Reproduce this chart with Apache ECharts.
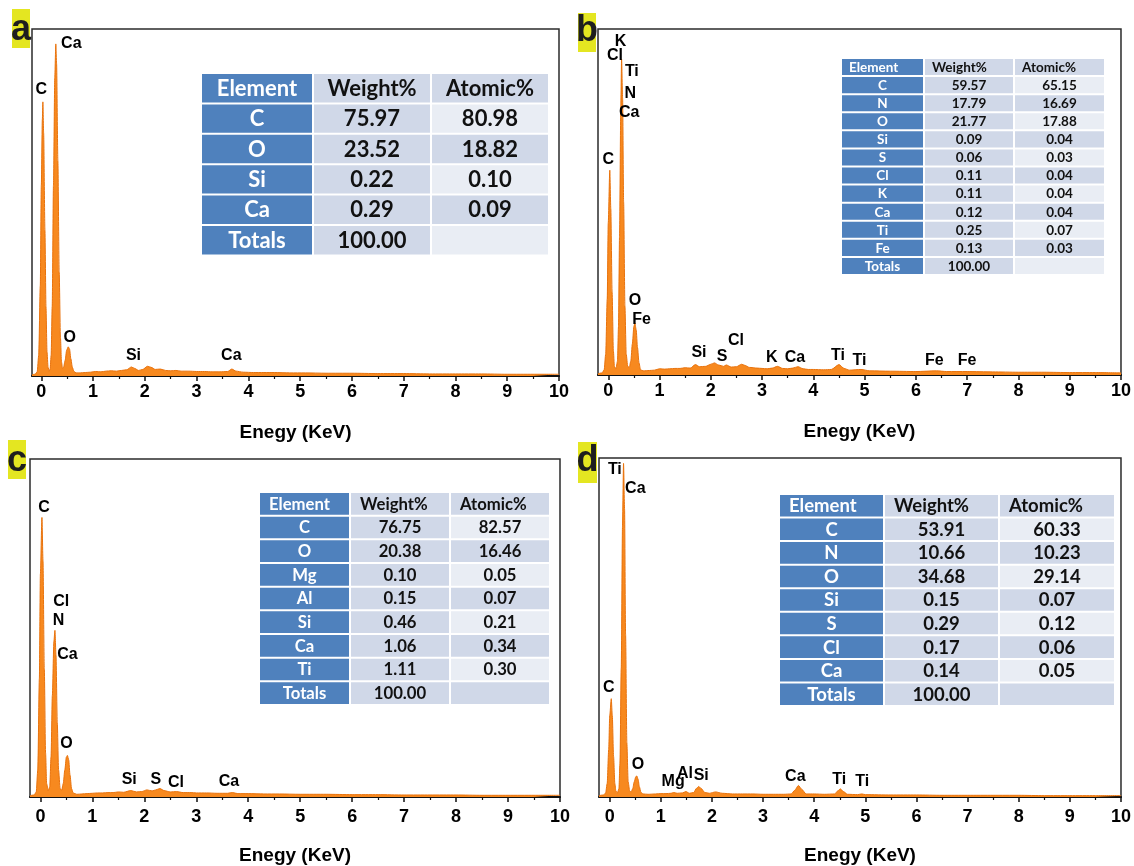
<!DOCTYPE html>
<html><head><meta charset="utf-8">
<script src="https://cdn.jsdelivr.net/npm/echarts@6/dist/echarts.min.js"></script>
<style>html,body{margin:0;padding:0;background:#fff}#c{width:1134px;height:866px}</style>
</head><body><div id="c"></div>
<script>
// ---------- DATA ----------
const xTickValues = [0,1,2,3,4,5,6,7,8,9,10];
const xMinorTickValues = [0.5,1.5,2.5,3.5,4.5,5.5,6.5,7.5,8.5,9.5];
const xAxisTitle = 'Enegy (KeV)';
const tableHeader = ['Element','Weight%','Atomic%'];

// spectrum (a): [energy keV, intensity % of full scale]
const specA = [[-0.18,0.4],[-0.12,0.5],[-0.08,1.2],[-0.05,6],[-0.02,26],[0.0,55],[0.02,74],[0.03,79],[0.045,70],[0.07,42],[0.09,20],[0.11,7],[0.13,2.5],[0.15,1.4],[0.17,2],[0.19,6],[0.21,20],[0.235,55],[0.26,86],[0.28,95.7],[0.295,90],[0.32,62],[0.345,30],[0.37,11],[0.39,4],[0.41,2.2],[0.43,2.5],[0.46,4.5],[0.49,7.5],[0.52,8.4],[0.545,7.8],[0.57,5],[0.6,2.5],[0.63,1.3],[0.67,0.9],[0.75,0.9],[0.85,1.0],[0.95,1.1],[1.05,1.3],[1.15,1.2],[1.25,1.4],[1.35,1.5],[1.45,1.4],[1.55,1.6],[1.65,1.8],[1.74,2.6],[1.8,2.2],[1.88,1.6],[1.96,1.9],[2.05,2.8],[2.12,2.5],[2.2,1.9],[2.3,2.0],[2.4,1.6],[2.5,1.5],[2.6,1.6],[2.7,1.4],[2.85,1.4],[3.0,1.3],[3.15,1.3],[3.3,1.2],[3.45,1.2],[3.6,1.3],[3.68,2.0],[3.76,1.4],[3.9,1.1],[4.1,1.0],[4.3,1.0],[4.5,1.0],[4.8,0.9],[5.1,0.9],[5.5,0.8],[6.0,0.8],[6.5,0.7],[7.0,0.7],[7.5,0.6],[8.0,0.6],[8.5,0.6],[9.0,0.5],[9.5,0.5],[10.0,0.5]];
const specB = [[-0.2,0.4],[-0.12,0.6],[-0.08,1.5],[-0.05,6],[-0.02,22],[0.0,44],[0.03,59.2],[0.05,48],[0.075,24],[0.1,7],[0.12,2.5],[0.15,1.8],[0.18,4],[0.2,14],[0.22,40],[0.245,78],[0.26,91.3],[0.28,80],[0.3,50],[0.325,20],[0.35,6],[0.38,2.5],[0.41,2.2],[0.44,4],[0.47,9],[0.5,14],[0.52,15],[0.545,13],[0.57,8],[0.6,3.5],[0.63,1.5],[0.68,1.2],[0.8,1.3],[0.9,1.4],[1.0,1.8],[1.1,1.7],[1.2,1.8],[1.3,1.9],[1.4,1.9],[1.5,2.1],[1.6,2.0],[1.7,3.0],[1.78,2.4],[1.9,2.5],[2.0,3.1],[2.07,3.5],[2.15,2.9],[2.25,2.5],[2.3,2.9],[2.4,2.3],[2.5,2.4],[2.6,3.1],[2.66,2.8],[2.75,2.2],[2.9,2.0],[3.0,1.9],[3.1,1.8],[3.2,2.0],[3.3,2.5],[3.4,1.9],[3.5,1.8],[3.6,2.0],[3.7,2.4],[3.8,1.8],[3.9,1.6],[4.0,1.6],[4.2,1.5],[4.35,1.6],[4.5,3.0],[4.6,1.9],[4.7,1.4],[4.93,1.6],[5.1,1.2],[5.5,1.1],[6.0,1.0],[6.4,1.2],[6.6,1.0],[7.0,1.0],[7.5,0.9],[8.0,0.8],[8.5,0.8],[9.0,0.7],[9.5,0.7],[10.0,0.6]];
const specC = [[-0.2,0.4],[-0.12,0.6],[-0.08,1.5],[-0.05,8],[-0.02,35],[0.0,66],[0.03,82.7],[0.05,70],[0.075,38],[0.1,13],[0.12,4],[0.15,1.8],[0.18,3],[0.205,12],[0.23,30],[0.26,46],[0.28,49.3],[0.3,42],[0.325,22],[0.35,8],[0.38,2.5],[0.41,2],[0.44,4],[0.47,8],[0.5,11.8],[0.52,12.3],[0.545,11],[0.57,6.5],[0.6,2.5],[0.63,1.2],[0.7,0.8],[0.8,0.9],[0.9,1.0],[1.0,1.1],[1.1,1.2],[1.2,1.2],[1.3,1.3],[1.4,1.3],[1.5,1.5],[1.6,1.4],[1.74,1.9],[1.85,1.5],[1.95,1.6],[2.05,2.1],[2.15,1.8],[2.22,2.1],[2.3,2.5],[2.38,1.9],[2.5,1.5],[2.62,1.6],[2.75,1.3],[2.9,1.3],[3.0,1.2],[3.2,1.2],[3.4,1.1],[3.6,1.1],[3.7,1.3],[3.8,1.0],[4.0,1.0],[4.3,0.9],[4.6,0.9],[5.0,0.8],[5.5,0.8],[6.0,0.7],[6.5,0.7],[7.0,0.6],[7.5,0.6],[8.0,0.6],[8.5,0.5],[9.0,0.5],[9.5,0.5],[10.0,0.5]];
const specD = [[-0.21,0.4],[-0.12,0.6],[-0.08,1.2],[-0.05,4],[-0.02,14],[0.0,24],[0.03,29],[0.05,24],[0.075,12],[0.1,4],[0.12,1.8],[0.15,1.2],[0.18,2.5],[0.2,10],[0.225,38],[0.25,80],[0.27,98.4],[0.29,85],[0.31,48],[0.335,16],[0.36,4.5],[0.39,1.8],[0.42,1.5],[0.45,2.5],[0.48,4.5],[0.51,6.0],[0.53,6.2],[0.555,5.2],[0.58,3.0],[0.61,1.4],[0.65,0.9],[0.75,0.8],[0.9,0.9],[1.0,1.0],[1.1,1.0],[1.2,1.1],[1.25,1.3],[1.32,1.1],[1.42,1.2],[1.49,1.6],[1.56,1.1],[1.64,1.3],[1.7,2.6],[1.74,3.1],[1.79,2.5],[1.86,1.3],[1.95,1.1],[2.07,1.5],[2.2,1.1],[2.4,0.9],[2.6,0.9],[2.8,0.9],[3.0,0.8],[3.2,0.8],[3.4,0.8],[3.55,0.9],[3.62,2.0],[3.69,3.4],[3.76,2.2],[3.84,0.9],[4.0,0.9],[4.2,0.8],[4.4,0.9],[4.46,1.8],[4.51,2.4],[4.57,1.6],[4.65,0.8],[4.85,0.7],[4.93,0.9],[5.0,0.7],[5.5,0.6],[6.0,0.6],[6.5,0.5],[7.0,0.5],[7.5,0.5],[8.0,0.5],[8.5,0.4],[9.0,0.4],[9.5,0.4],[10.0,0.4]];

// peak labels: [text, energy, intensity]
const labelsA = [['C',0.0,82.4],['Ca',0.58,95.7],['O',0.55,11.2],['Si',1.78,6.0],['Ca',3.67,6.0]];
const labelsB = [['K',0.24,96.3],['Cl',0.13,92.2],['Ti',0.46,87.7],['N',0.43,81.2],['Ca',0.41,75.9],['C',0.0,62.3],['O',0.52,21.4],['Fe',0.65,16.1],['Si',1.77,6.4],['S',2.22,5.3],['Cl',2.49,9.9],['K',3.19,5.0],['Ca',3.64,5.0],['Ti',4.48,5.5],['Ti',4.9,4.3],['Fe',6.36,4.1],['Fe',7.0,4.1]];
const labelsC = [['C',0.07,85.6],['Cl',0.4,57.7],['N',0.35,52.2],['Ca',0.52,42.1],['O',0.5,15.9],['Si',1.71,5.1],['S',2.22,5.2],['Cl',2.61,4.4],['Ca',3.63,4.6]];
const labelsD = [['Ti',0.1,96.6],['Ca',0.5,90.9],['C',-0.02,32.2],['O',0.55,9.6],['Mg',1.24,4.5],['Al',1.47,6.9],['Si',1.79,6.2],['Ca',3.63,6.0],['Ti',4.49,5.0],['Ti',4.94,4.5]];

// composition tables
const elementsA = ['C','O','Si','Ca','Totals'];
const weightA = [75.97,23.52,0.22,0.29,100.00];
const atomicA = [80.98,18.82,0.10,0.09,null];
const elementsB = ['C','N','O','Si','S','Cl','K','Ca','Ti','Fe','Totals'];
const weightB = [59.57,17.79,21.77,0.09,0.06,0.11,0.11,0.12,0.25,0.13,100.00];
const atomicB = [65.15,16.69,17.88,0.04,0.03,0.04,0.04,0.04,0.07,0.03,null];
const elementsC = ['C','O','Mg','Al','Si','Ca','Ti','Totals'];
const weightC = [76.75,20.38,0.10,0.15,0.46,1.06,1.11,100.00];
const atomicC = [82.57,16.46,0.05,0.07,0.21,0.34,0.30,null];
const elementsD = ['C','N','O','Si','S','Cl','Ca','Totals'];
const weightD = [53.91,10.66,34.68,0.15,0.29,0.17,0.14,100.00];
const atomicD = [60.33,10.23,29.14,0.07,0.12,0.06,0.05,null];
const panelTags = ['a','b','c','d'];

// ---------- LAYOUT / STYLE ----------
const AX_FONT = 'Liberation Sans, Arial, sans-serif';
const TB_FONT = 'Lato, "Open Sans", sans-serif';
const BLUE = '#4f81bd', MED = '#d0d8e8', LIGHT = '#e9edf4';
const panels = [
  {grid:{left:32,top:29,width:527,height:347}, xmin:-0.18, spec:specA, labels:labelsA, lblMargin:7, nameGap:47,
   tag:{x:12,y:9,w:18,h:39,cy:30},
   table:{left:202,top:74,colW:[110,116,116],rowH:30.4,gap:2,fs:22,headerLeft:false,pad:0}, els:elementsA, w:weightA, at:atomicA},
  {grid:{left:598,top:29,width:527,height:346}, xmin:-0.2, spec:specB, labels:labelsB, lblMargin:7, nameGap:47,
   tag:{x:578,y:13,w:18,h:39,cy:31},
   table:{left:842,top:59,colW:[81,88,89],rowH:18.08,gap:2,fs:13.5,headerLeft:true,pad:7}, els:elementsB, w:weightB, at:atomicB},
  {grid:{left:30,top:459,width:530,height:347}, xmin:-0.2, spec:specC, labels:labelsC, lblMargin:11, nameGap:49,
   tag:{x:8,y:440,w:18,h:39,cy:461},
   table:{left:260,top:493,colW:[89,98,98],rowH:23.67,gap:2,fs:16.7,headerLeft:true,pad:9}, els:elementsC, w:weightC, at:atomicC},
  {grid:{left:599,top:458,width:528,height:348}, xmin:-0.21, spec:specD, labels:labelsD, lblMargin:11, nameGap:49,
   tag:{x:578,y:442,w:19,h:41,cy:461},
   table:{left:780,top:495,colW:[103,113,114],rowH:23.56,gap:2,fs:18.5,headerLeft:true,pad:9}, els:elementsD, w:weightD, at:atomicD}
];

function fmt(v){ return v === null || v === undefined ? '' : v.toFixed(2); }

function buildTable(t, els, w, at) {
  const out = [];
  const rows = [tableHeader].concat(els.map((e,i)=>[e, fmt(w[i]), fmt(at[i])]));
  const colX = [t.left, t.left + t.colW[0] + t.gap, t.left + t.colW[0] + t.colW[1] + 2*t.gap];
  rows.forEach((row, r) => {
    const y = t.top + r * t.rowH;
    const h = t.rowH - t.gap;
    row.forEach((txt, c) => {
      const x = colX[c], cw = t.colW[c];
      const fill = c === 0 ? BLUE : (c === 1 ? MED : (r % 2 === 0 ? MED : LIGHT));
      out.push({type:'rect', silent:true, shape:{x:x, y:y, width:cw, height:h}, style:{fill:fill}});
      if (txt) {
        const left = (r === 0 && t.headerLeft);
        out.push({type:'text', silent:true, x: left ? x + t.pad : x + cw/2, y: y + h/2 + 0.5,
          style:{text:txt, fill: c === 0 ? '#ffffff' : '#111111', font:'bold ' + t.fs + 'px ' + TB_FONT,
                 align: left ? 'left' : 'center', verticalAlign:'middle',
                 textAlign: left ? 'left' : 'center', textVerticalAlign:'middle'}});
      }
    });
  });
  return out;
}

const grids = [], xAxes = [], yAxes = [], series = [], graphics = [];
panels.forEach((p, i) => {
  grids.push(Object.assign({show:true, borderColor:'#2b2b2b', borderWidth:1.5, backgroundColor:'transparent'}, p.grid));
  xAxes.push({type:'value', gridIndex:i, min:p.xmin, max:10, position:'bottom',
    name:xAxisTitle, nameLocation:'middle', nameGap:p.nameGap,
    nameTextStyle:{fontFamily:AX_FONT, fontWeight:'bold', fontSize:19, color:'#000'},
    axisLine:{show:true, onZero:false, lineStyle:{color:'#111', width:2}},
    axisTick:{show:true, customValues:xTickValues, length:5, lineStyle:{color:'#111', width:1.5}},
    axisLabel:{show:true, customValues:xTickValues, margin:p.lblMargin, fontFamily:AX_FONT, fontWeight:'bold', fontSize:18, color:'#000'},
    splitLine:{show:false}});
  xAxes.push({type:'value', gridIndex:i, min:p.xmin, max:10, position:'bottom',
    axisLine:{show:false, onZero:false},
    axisTick:{show:true, customValues:xMinorTickValues, length:3, lineStyle:{color:'#111', width:1.2}},
    axisLabel:{show:false}, splitLine:{show:false}});
  yAxes.push({type:'value', gridIndex:i, min:0, max:100, show:false});
  series.push({type:'line', xAxisIndex:2*i, yAxisIndex:i, data:p.spec, showSymbol:false, symbol:'none',
    smooth:0.25, smoothMonotone:'x', lineStyle:{color:'#e8720c', width:1},
    areaStyle:{color:'#f7891f', opacity:1}, silent:true, z:2});
  series.push({type:'scatter', xAxisIndex:2*i, yAxisIndex:i, symbolSize:0, silent:true, z:5,
    itemStyle:{opacity:1},
    data:p.labels.map(l => ({name:l[0], value:[l[1], l[2]]})),
    label:{show:true, position:'inside', formatter:'{b}', opacity:1, fontFamily:AX_FONT, fontWeight:'bold', fontSize:16,
      color:'#000', textBorderWidth:0}});
  graphics.push({type:'rect', silent:true, shape:{x:p.tag.x, y:p.tag.y, width:p.tag.w, height:p.tag.h}, style:{fill:'#e4e621'}});
  graphics.push({type:'text', silent:true, x:p.tag.x + p.tag.w/2, y:p.tag.cy,
    style:{text:panelTags[i], fill:'#1e1e1e', font:'bold 36px ' + AX_FONT, align:'center', verticalAlign:'middle', textAlign:'center', textVerticalAlign:'middle'}});
  buildTable(p.table, p.els, p.w, p.at).forEach(g => graphics.push(g));
});

const chart = echarts.init(document.getElementById('c'), null, {renderer:'canvas'});
chart.setOption({
  animation:false,
  backgroundColor:'#ffffff',
  grid:grids, xAxis:xAxes, yAxis:yAxes, series:series,
  graphic:{elements:graphics}
});
</script></body></html>
